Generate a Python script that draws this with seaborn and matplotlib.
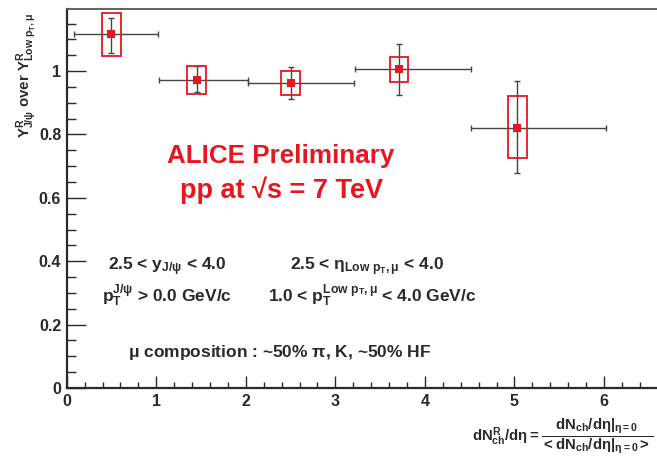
import numpy as np
import pandas as pd
import matplotlib
matplotlib.use("Agg")
import matplotlib.pyplot as plt
from matplotlib.patches import Rectangle
from matplotlib.ticker import MultipleLocator
import seaborn as sns

# Relative multiplicity bins (dN^R_ch/deta) and J/psi over low-pT muon yield ratio
x_center = [0.50, 1.45, 2.50, 3.71, 5.03]
x_low = [0.08, 1.03, 2.02, 3.22, 4.52]
x_high = [1.02, 2.02, 3.21, 4.52, 6.02]
ratio = [1.116, 0.973, 0.964, 1.006, 0.821]
stat_low = [1.058, 0.933, 0.911, 0.924, 0.679]
stat_high = [1.168, 1.016, 1.012, 1.084, 0.968]
sys_low = [1.048, 0.929, 0.924, 0.966, 0.725]
sys_high = [1.182, 1.016, 0.999, 1.046, 0.923]

df = pd.DataFrame({"x": x_center, "y": ratio})

sns.set_theme(style="ticks")
plt.rcParams["font.family"] = ["Liberation Sans", "DejaVu Sans"]
plt.rcParams["font.weight"] = "bold"
plt.rcParams["mathtext.fontset"] = "custom"
plt.rcParams["mathtext.rm"] = "Liberation Sans:bold"
plt.rcParams["mathtext.it"] = "Liberation Sans:bold"
plt.rcParams["mathtext.bf"] = "Liberation Sans:bold"
plt.rcParams["mathtext.sf"] = "Liberation Sans:bold"

RED = "#e8161e"
INK = "#2a2a2a"

W, H = 657, 457
fig = plt.figure(figsize=(W / 100, H / 100), dpi=100)
px_per_x = 89.55
ax_left, ax_bottom, ax_top = 66.7, 388.0, 9.0
ax_w = 7.0 * px_per_x
ax = fig.add_axes([ax_left / W, 1 - ax_bottom / H, ax_w / W, (ax_bottom - ax_top) / H])

# statistical errors (vertical) and bin widths (horizontal)
y = np.array(ratio)
xc = np.array(x_center)
xerr = [xc - np.array(x_low), np.array(x_high) - xc]
yerr = [y - np.array(stat_low), np.array(stat_high) - y]
ax.errorbar(xc, y, xerr=xerr, yerr=yerr, fmt="none", ecolor="#444444",
            elinewidth=1.0, capsize=2.2, capthick=1.0, zorder=2)

# systematic uncertainty boxes
box_w = 0.21
for xi, lo, hi in zip(x_center, sys_low, sys_high):
    ax.add_patch(Rectangle((xi - box_w / 2, lo), box_w, hi - lo, fill=False,
                           edgecolor=RED, linewidth=1.3, zorder=3))

sns.scatterplot(data=df, x="x", y="y", marker="s", color=RED, s=30,
                edgecolor=RED, linewidth=0, ax=ax, zorder=4)

ax.set_xlim(0, 7)
ax.set_ylim(0, 1.196)

ax.xaxis.set_major_locator(MultipleLocator(1))
ax.xaxis.set_minor_locator(MultipleLocator(0.2))
ax.yaxis.set_major_locator(MultipleLocator(0.2))
ax.yaxis.set_minor_locator(MultipleLocator(0.05))
ax.set_xticks([0, 1, 2, 3, 4, 5, 6])
ax.set_xticklabels(["0", "1", "2", "3", "4", "5", "6"])
ax.set_yticks([0, 0.2, 0.4, 0.6, 0.8, 1.0])
ax.set_yticklabels(["0", "0.2", "0.4", "0.6", "0.8", "1"])

ax.tick_params(axis="both", which="both", direction="in", colors=INK,
               labelsize=11.5, width=1.0)
ax.tick_params(axis="y", which="major", length=14, pad=4)
ax.tick_params(axis="y", which="minor", length=6.5)
ax.tick_params(axis="x", which="major", length=8.5, pad=4)
ax.tick_params(axis="x", which="minor", length=4.5)
for lab in ax.get_xticklabels() + ax.get_yticklabels():
    lab.set_fontweight("bold")

for side in ["left", "bottom"]:
    ax.spines[side].set_color(INK)
    ax.spines[side].set_linewidth(1.6)
ax.spines["top"].set_color("#555555")
ax.spines["top"].set_linewidth(1.3)
ax.spines["right"].set_visible(False)

ax.set_ylabel(r"Y$^{R}_{J/\psi}$ over Y$^{R}_{Low\ p_{T},\mu}$", fontsize=10.8,
              fontweight="bold", color=INK, loc="top")
ax.yaxis.set_label_coords(-0.044, 0.99)

ax.set_xlabel(r"$dN^{R}_{ch}/d\eta = \dfrac{dN_{ch}/d\eta|_{\eta=0}}{<dN_{ch}/d\eta|_{\eta=0}>}$",
              fontsize=10.8, color=INK, loc="right")
ax.xaxis.label.set_horizontalalignment("left")
ax.xaxis.label.set_verticalalignment("center")
ax.xaxis.set_label_coords((472 - ax_left) / ax_w, -(436 - ax_bottom) / (ax_bottom - ax_top))

def axfrac(px, py):
    return (px - ax_left) / ax_w, (ax_bottom - py) / (ax_bottom - ax_top)

tx, ty = axfrac(281, 156)
ax.text(tx, ty, "ALICE Preliminary", transform=ax.transAxes, ha="center", va="center",
        color=RED, fontsize=18.7, fontweight="bold")
tx, ty = axfrac(282, 190)
ax.text(tx, ty, "pp at \u221As = 7 TeV", transform=ax.transAxes, ha="center",
        va="center", color=RED, fontsize=19.5, fontweight="bold")

notes = [
    (108, 270, r"2.5 < y$_{J/\psi}$ < 4.0"),
    (102, 302, r"p$_{T}^{J/\psi}$ > 0.0 GeV/c"),
    (290, 270, r"2.5 < $\eta_{Low\ p_{T},\mu}$ < 4.0"),
    (268, 302, r"1.0 < p$_{T}^{Low\ p_{T},\mu}$ < 4.0 GeV/c"),
    (128, 357, r"$\mu$ composition : ~50% $\pi$, K, ~50% HF"),
]
for px, py, s in notes:
    tx, ty = axfrac(px, py)
    ax.text(tx, ty, s, transform=ax.transAxes, ha="left", va="baseline",
            color=INK, fontsize=12.5, fontweight="bold")

fig.savefig("out.png", dpi=100)
